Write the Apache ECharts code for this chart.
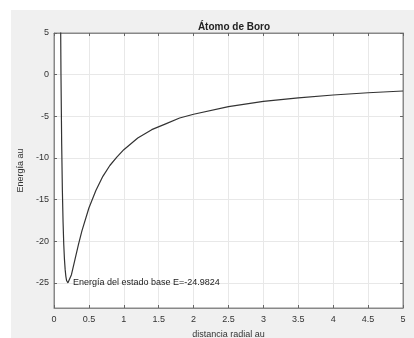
<!DOCTYPE html>
<html><head><meta charset="utf-8">
<script src="https://cdn.jsdelivr.net/npm/echarts@6/dist/echarts.min.js"></script>
<style>
html,body{margin:0;padding:0;background:#fff;}
#bg{position:absolute;left:11px;top:10px;width:403px;height:328px;background:#f0f0f0;}
#c{position:absolute;left:0;top:0;width:414px;height:338px;}
</style></head>
<body><div id="bg"></div><div id="c"></div>
<script>
const radius = [0.09,0.1,0.11,0.12,0.13,0.14,0.15,0.16,0.17,0.18,0.19,0.2,0.22,0.25,0.3,0.35,0.4,0.5,0.6,0.7,0.8,0.9,1.0,1.2,1.4,1.6,1.8,2.0,2.5,3.0,3.5,4.0,4.5,5.0];
const energy = [12.3,0,-8.3,-13.9,-17.7,-20.4,-22.2,-23.4,-24.2,-24.7,-24.9,-24.98,-24.8,-24.0,-22.2,-20.4,-18.75,-16.0,-13.9,-12.2,-10.9,-9.9,-9.0,-7.6,-6.6,-5.9,-5.2,-4.75,-3.84,-3.2,-2.78,-2.44,-2.17,-1.96];
const xTicks = [0,0.5,1,1.5,2,2.5,3,3.5,4,4.5,5];
const yTicks = [-25,-20,-15,-10,-5,0,5];
const titleText = 'Átomo de Boro';
const xName = 'distancia radial au';
const yName = 'Energía au';
const minLabel = 'Energía del estado base E=-24.9824';
const minPoint = [0.2, -24.98];

const font = 'Liberation Sans, Arial, sans-serif';
const chart = echarts.init(document.getElementById('c'), null, {renderer:'canvas'});
const tickStyle = {show:true, inside:true, length:3, lineStyle:{color:'#666', width:1}};
chart.setOption({
  animation:false,
  backgroundColor:'transparent',
  title:{text:titleText, left:229, top:17, textAlign:'center',
    textStyle:{fontFamily:font, fontSize:10, fontWeight:'bold', color:'#222'}},
  grid:{left:54, top:33, right:11, bottom:30, show:true, backgroundColor:'#fff', borderColor:'#888', borderWidth:1,
    containLabel:false, outerBoundsMode:'none'},
  xAxis:[{type:'value', min:0, max:5, position:'bottom',
    name:xName, nameLocation:'middle', nameGap:22,
    nameTextStyle:{fontFamily:font, fontSize:9, color:'#333'},
    axisLine:{show:true, onZero:false, lineStyle:{color:'#888'}},
    axisTick:Object.assign({customValues:xTicks}, tickStyle),
    axisLabel:{customValues:xTicks, margin:7, fontFamily:font, fontSize:9, color:'#333',
      formatter:v=>String(v)},
    splitLine:{show:true, lineStyle:{color:'#e8e8e8', width:1}}},
   {type:'value', min:0, max:5, position:'top',
    axisLine:{show:true, onZero:false, lineStyle:{color:'#888'}},
    axisTick:Object.assign({customValues:xTicks}, tickStyle),
    axisLabel:{show:false}, splitLine:{show:false}}],
  yAxis:[{type:'value', min:-28, max:5, position:'left',
    name:yName, nameLocation:'middle', nameGap:28,
    nameTextStyle:{fontFamily:font, fontSize:9, color:'#333'},
    axisLine:{show:true, onZero:false, lineStyle:{color:'#888'}},
    axisTick:Object.assign({customValues:yTicks}, tickStyle),
    axisLabel:{customValues:yTicks, margin:5, fontFamily:font, fontSize:9, color:'#333'},
    splitLine:{show:true, lineStyle:{color:'#e8e8e8', width:1}}},
   {type:'value', min:-28, max:5, position:'right',
    axisLine:{show:true, onZero:false, lineStyle:{color:'#888'}},
    axisTick:Object.assign({customValues:yTicks}, tickStyle),
    axisLabel:{show:false}, splitLine:{show:false}}],
  series:[{type:'line', xAxisIndex:0, yAxisIndex:0, showSymbol:false, clip:true,
    data:radius.map((r,i)=>[r, energy[i]]),
    lineStyle:{color:'#333', width:1.2},
    markPoint:{symbolSize:0, data:[{coord:minPoint}],
      label:{show:true, position:'right', distance:5, formatter:minLabel,
        fontFamily:font, fontSize:9, color:'#222'}}}]
});
</script></body></html>
